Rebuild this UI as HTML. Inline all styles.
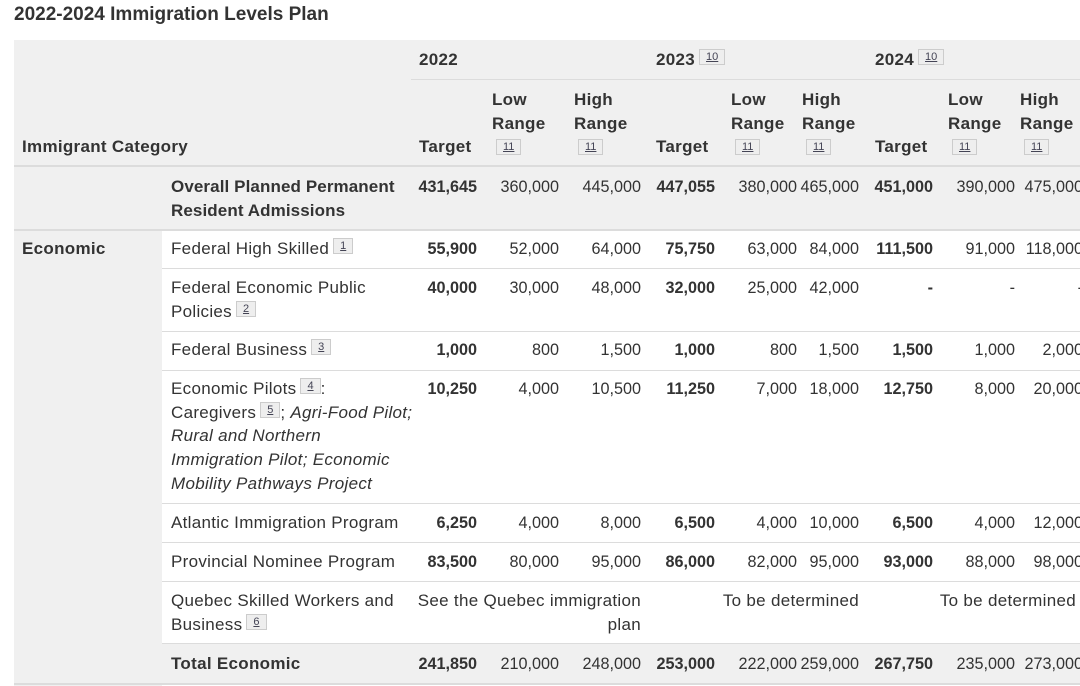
<!DOCTYPE html>
<html><head><meta charset="utf-8"><style>
body{margin:0;width:1080px;height:686px;overflow:hidden;background:#fff;font-family:"Liberation Sans",sans-serif;color:#333;font-size:17px;letter-spacing:0.3px;position:relative}
.a{position:absolute;white-space:nowrap;line-height:24px;height:24px}
.r{text-align:right}
.n{letter-spacing:0;font-size:16.2px}
.b{font-weight:bold}
.i{font-style:italic}
.bg{position:absolute;background:#f0f0f0}
.ln{position:absolute;height:1px;background:#dcdcdc}
.fn{display:inline-block;border:1px solid #ccc;background:#eee;font-size:11px;line-height:14px;padding:0 6px;vertical-align:5px;text-decoration:underline;color:#445;font-weight:normal;font-style:normal;margin-left:4px;letter-spacing:0}
</style></head><body>
<div class="a b" style="left:14px;top:3px;font-size:19px;letter-spacing:0">2022-2024 Immigration Levels Plan</div>
<div class="bg" style="left:14px;top:40px;width:1066px;height:189px"></div>
<div class="bg" style="left:14px;top:229px;width:148px;height:457px"></div>
<div class="bg" style="left:162px;top:643px;width:918px;height:40px"></div>
<div class="ln" style="left:411px;top:79px;width:669px"></div>
<div class="ln" style="left:14px;top:165px;width:1066px;height:2px"></div>
<div class="ln" style="left:14px;top:229px;width:1066px;height:2px"></div>
<div class="ln" style="left:162px;top:268px;width:918px"></div>
<div class="ln" style="left:162px;top:331px;width:918px"></div>
<div class="ln" style="left:162px;top:370px;width:918px"></div>
<div class="ln" style="left:162px;top:503px;width:918px"></div>
<div class="ln" style="left:162px;top:542px;width:918px"></div>
<div class="ln" style="left:162px;top:581px;width:918px"></div>
<div class="ln" style="left:162px;top:643px;width:918px"></div>
<div class="ln" style="left:14px;top:683px;width:1066px;height:2px"></div>

<div class="a b" style="left:419px;top:48px">2022</div>
<div class="a b" style="left:656px;top:48px">2023<span class="fn">10</span></div>
<div class="a b" style="left:875px;top:48px">2024<span class="fn">10</span></div>
<div class="a b" style="left:22px;top:135px">Immigrant Category</div>

<div class="a b" style="left:419px;top:135px">Target</div>
<div class="a b" style="left:656px;top:135px">Target</div>
<div class="a b" style="left:875px;top:135px">Target</div>
<div class="a b" style="left:492px;top:88px">Low<br>Range<br><span class="fn" style="vertical-align:3px">11</span></div>
<div class="a b" style="left:574px;top:88px">High<br>Range<br><span class="fn" style="vertical-align:3px">11</span></div>
<div class="a b" style="left:731px;top:88px">Low<br>Range<br><span class="fn" style="vertical-align:3px">11</span></div>
<div class="a b" style="left:802px;top:88px">High<br>Range<br><span class="fn" style="vertical-align:3px">11</span></div>
<div class="a b" style="left:948px;top:88px">Low<br>Range<br><span class="fn" style="vertical-align:3px">11</span></div>
<div class="a b" style="left:1020px;top:88px">High<br>Range<br><span class="fn" style="vertical-align:3px">11</span></div>

<div class="a b" style="left:171px;top:175px;line-height:23.5px;letter-spacing:0.1px">Overall Planned Permanent<br>Resident Admissions</div>
<div class="a b" style="left:22px;top:237px">Economic</div>
<div class="a" style="left:171px;top:237px">Federal High Skilled<span class="fn">1</span></div>
<div class="a" style="left:171px;top:276px;line-height:23.5px">Federal Economic Public<br>Policies<span class="fn">2</span></div>
<div class="a" style="left:171px;top:338px">Federal Business<span class="fn">3</span></div>
<div class="a" style="left:171px;top:377px;line-height:23.7px">Economic Pilots<span class="fn">4</span>:<br>Caregivers<span class="fn">5</span>; <i>Agri-Food Pilot;</i><br><i>Rural and Northern</i><br><i>Immigration Pilot; Economic</i><br><i>Mobility Pathways Project</i></div>
<div class="a" style="left:171px;top:511px">Atlantic Immigration Program</div>
<div class="a" style="left:171px;top:550px">Provincial Nominee Program</div>
<div class="a" style="left:171px;top:589px;line-height:23.5px">Quebec Skilled Workers and<br>Business<span class="fn">6</span></div>
<div class="a b" style="left:171px;top:652px">Total Economic</div>

<div id="nums"></div>
<script>
var R=[477,559,641,715,797,859,933,1015,1083];
var rows=[[175,["431,645","360,000","445,000","447,055","380,000","465,000","451,000","390,000","475,000"]],
[237,["55,900","52,000","64,000","75,750","63,000","84,000","111,500","91,000","118,000"]],
[276,["40,000","30,000","48,000","32,000","25,000","42,000","-","-","-"]],
[338,["1,000","800","1,500","1,000","800","1,500","1,500","1,000","2,000"]],
[377,["10,250","4,000","10,500","11,250","7,000","18,000","12,750","8,000","20,000"]],
[511,["6,250","4,000","8,000","6,500","4,000","10,000","6,500","4,000","12,000"]],
[550,["83,500","80,000","95,000","86,000","82,000","95,000","93,000","88,000","98,000"]],
[652,["241,850","210,000","248,000","253,000","222,000","259,000","267,750","235,000","273,000"]]];
var h="";
rows.forEach(function(r){r[1].forEach(function(v,i){h+='<div class="a r n'+(i%3==0?' b':'')+'" style="right:'+(1080-R[i])+'px;top:'+r[0]+'px">'+v+'</div>';});});
h+='<div class="a r" style="right:439px;top:589px;line-height:23.5px">See the Quebec immigration<br>plan</div>';
h+='<div class="a r" style="right:221px;top:589px">To be determined</div>';
h+='<div class="a r" style="right:4px;top:589px">To be determined</div>';
document.getElementById("nums").innerHTML=h;
</script>
</body></html>
